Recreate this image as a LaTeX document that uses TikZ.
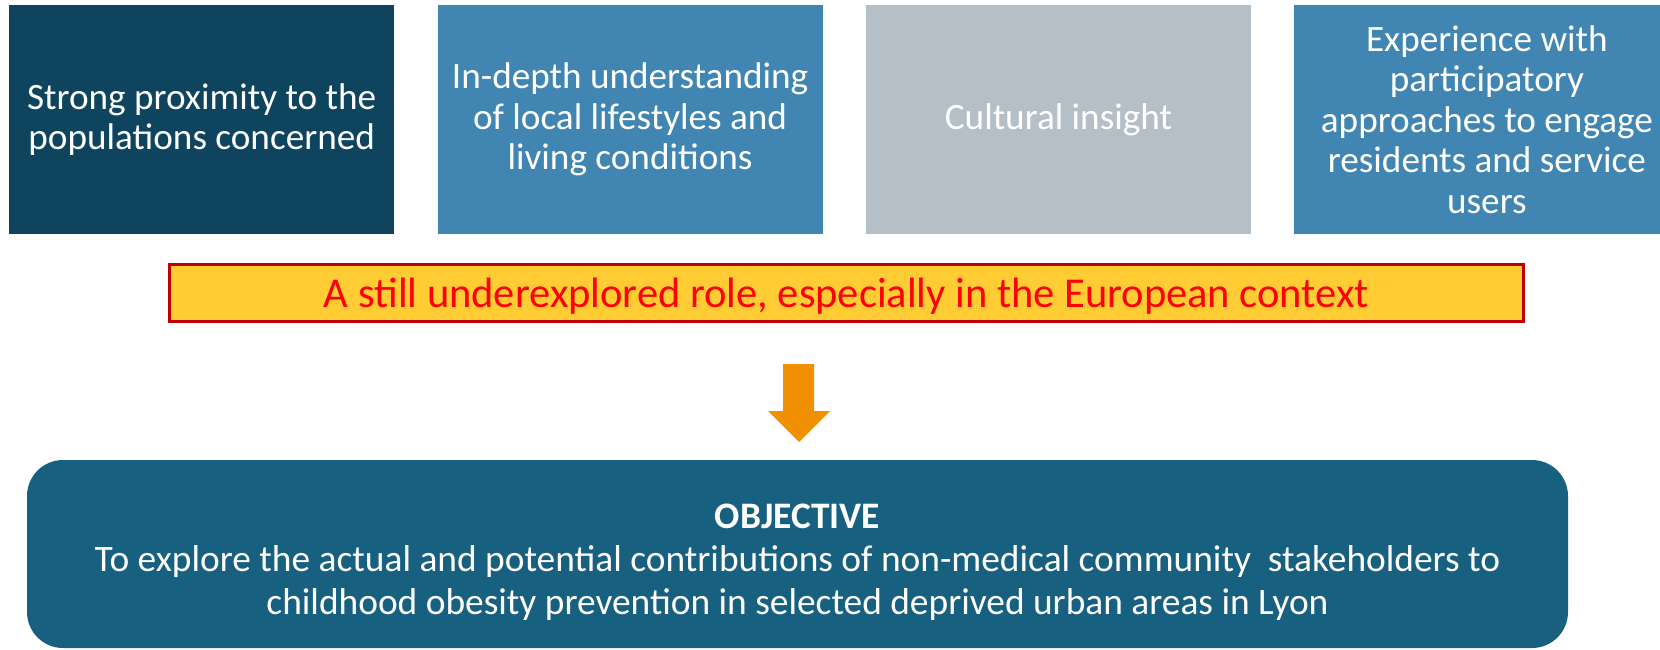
\documentclass[tikz,border=0pt]{standalone}
\usepackage{fontspec}
\setmainfont{Carlito}
\usepackage{xcolor}
\usetikzlibrary{positioning}
\definecolor{darkteal}{HTML}{0E445E}
\definecolor{midblue}{HTML}{4186B2}
\definecolor{paleslate}{HTML}{B5BFC8}
\definecolor{goldfill}{HTML}{FFCC33}
\definecolor{darkred}{HTML}{C00000}
\definecolor{objblue}{HTML}{186080}
\definecolor{arroworange}{HTML}{F09000}
\tikzset{x=1pt, y=-1pt,
         node distance=43pt,
         topbox/.style={rectangle, minimum width=385pt, minimum height=229pt,
                        inner sep=0pt, align=center, text=white,
                        font=\fontsize{37.2}{40.5}\selectfont},
         notebox/.style={rectangle, draw=darkred, line width=3pt, fill=goldfill,
                         minimum width=1354pt, minimum height=57pt, inner sep=0pt,
                         text=red, font=\fontsize{42.5}{44}\selectfont},
         objbox/.style={rectangle, rounded corners=36pt, fill=objblue,
                        minimum width=1541pt, minimum height=188pt, inner sep=0pt},
         objtext/.style={align=center, text=white, inner sep=0pt,
                         font=\fontsize{37.4}{43}\selectfont},
         }

\begin{document}
\begin{tikzpicture}
    \useasboundingbox (0,0) rectangle (1660,650);
    \node[topbox, fill=darkteal, anchor=north west] (prox) at (9,5)
        {Strong proximity to the\\populations concerned};
    \node[topbox, fill=midblue, right=of prox] (underst)
        {In-depth understanding\\of local lifestyles and\\living conditions};
    \node[topbox, fill=paleslate, right=of underst] (cult) {Cultural insight};
    \node[topbox, fill=midblue, right=of cult] (exper)
        {Experience with\\participatory\\approaches to engage\\residents and service\\users};

    \node[notebox] (role) at (846.5,293) {};
    \node[text=red, font=\fontsize{42.5}{44}\selectfont] (roletext) at (846.5,296)
        {A still underexplored role, especially in the European context};

    \node[objbox] (obj) at (797.5,554) {};
    \node[objtext] (objlabel) at (797.5,562)
        {\textbf{OBJECTIVE}\\To explore the actual and potential contributions of non-medical community\ \ stakeholders to\\childhood obesity prevention in selected deprived urban areas in Lyon};

    % block arrow between role and objective
    \fill[arroworange] (783,364) -- (814,364) -- (814,411) -- (830,411)
        -- (799,442) -- (768,411) -- (783,411) -- cycle;
\end{tikzpicture}
\end{document}
